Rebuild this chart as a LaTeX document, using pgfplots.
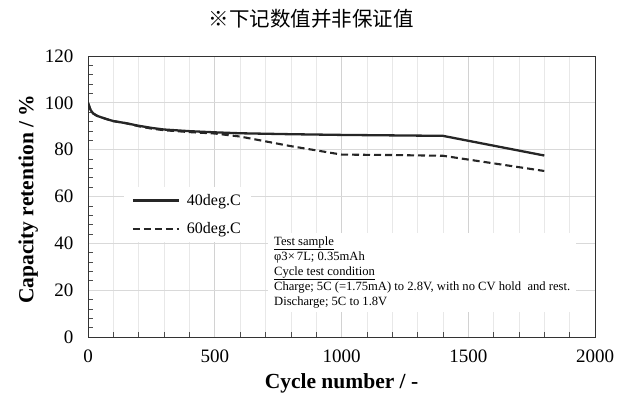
\documentclass[border=0pt]{standalone}
\usepackage{fontspec}
\setmainfont{Liberation Serif}
\newfontfamily\cjk{Noto Sans CJK SC}
\usepackage{pgfplots}
\pgfplotsset{compat=1.18}
\begin{document}
\begin{tikzpicture}
\useasboundingbox (0,0) rectangle (628pt,401pt);
\node[font=\cjk\fontsize{20.5}{20.5}\selectfont] at (311pt,382pt) {※下记数值并非保证值};
\begin{axis}[
  at={(88pt,64pt)}, anchor=south west,
  scale only axis, width=507pt, height=281pt,
  xmin=0, xmax=2000, ymin=0, ymax=120,
  xtick={0,500,...,2000}, ytick={0,20,...,120},
  minor x tick num=4, minor y tick num=4,
  xminorgrids, xmajorgrids, ymajorgrids,
  minor x grid style={gray!18, line width=0.6pt},
  major x grid style={gray!35, line width=0.7pt},
  major y grid style={gray!30, line width=0.7pt},
  tick align=inside,
  major tick length=0pt, minor tick length=5pt,
  minor tick style={black!70, line width=0.6pt},
  axis line style={black!80, line width=0.8pt},
  ticklabel style={font=\fontsize{19}{19}\selectfont},
  xticklabel style={yshift=-9pt},
  yticklabel style={xshift=-11pt},
  /pgf/number format/assume math mode=true,
  /pgf/number format/1000 sep={},
  xtick pos=bottom, ytick pos=left,
  xlabel={\textbf{Cycle number / -}},
  ylabel={\textbf{Capacity retention / \%}},
  label style={font=\fontsize{21.5}{21.5}\selectfont},
  xlabel style={at={(axis description cs:0.5,0)}, anchor=center, yshift=-46pt},
  ylabel style={at={(axis description cs:-0.118,0.49)}, anchor=center},
  legend style={at={(axis description cs:0.07,0.534)}, anchor=north west,
    fill=white, draw=none, font=\fontsize{16}{16}\selectfont,
    row sep=12pt, inner xsep=8pt, inner ysep=5pt},
  legend cell align=left,
  legend image code/.code={\draw[#1] (0pt,0pt) -- (46pt,0pt);},
]
\addplot[black!85, line width=2.3pt] coordinates {
(0,100) (5,98.5) (10,97) (20,95.5) (35,94.5) (50,93.9) (75,93) (100,92.2) (150,91.3) (200,90.2) (250,89.3) (300,88.6) (400,87.9) (500,87.4) (600,87.0) (800,86.6) (1000,86.3) (1200,86.1) (1400,85.9) (1800,77.5)
};
\addlegendentry{\hspace{5pt}40deg.C}
\addplot[black!85, line width=2.1pt, dash pattern=on 7pt off 4pt] coordinates {
(0,100) (5,98.5) (10,97) (20,95.5) (35,94.5) (50,93.9) (75,93) (100,92.2) (150,91.3) (200,90.0) (250,89.0) (300,88.3) (400,87.5) (500,86.9) (600,85.6) (800,81.5) (1000,77.9) (1200,77.7) (1400,77.4) (1800,70.9)
};
\addlegendentry{\hspace{5pt}60deg.C}
\node[anchor=north west, fill=white, inner xsep=6pt, inner ysep=4pt, align=left,
  font=\fontsize{12.6}{15}\selectfont] at (axis cs:710,44.6) {%
\underline{Test sample}\\
φ3×\,7L; 0.35mAh\\
\underline{Cycle test condition}\\
Charge; 5C (=1.75mA) to 2.8V, with no CV hold\ \ and rest.\\
Discharge; 5C to 1.8V};
\end{axis}
\end{tikzpicture}
\end{document}
